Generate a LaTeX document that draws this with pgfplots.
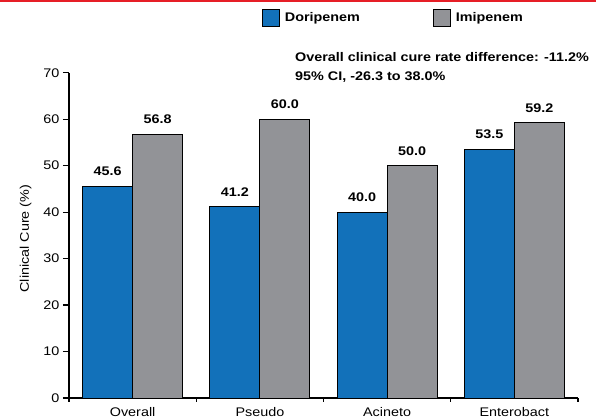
\documentclass[border=0pt]{standalone}
\usepackage{pgfplots}
\pgfplotsset{compat=1.18}
\usepackage{fontspec}
\setmainfont[FakeStretch=1.15]{Liberation Sans}
\definecolor{dblue}{RGB}{18,113,186}
\definecolor{igrey}{RGB}{146,147,151}
\definecolor{topred}{RGB}{230,30,38}
\begin{document}
\begin{tikzpicture}[x=1pt,y=1pt]
\useasboundingbox (0,0) rectangle (596,419);
\fill[topred] (0,417) rectangle (596,419);
\begin{axis}[
  at={(69pt,21pt)}, anchor=south west,
  scale only axis, width=509pt, height=325.3pt,
  xmin=-0.5, xmax=3.5, ymin=0, ymax=70,
  ybar=0pt, bar width=50pt,
  axis lines*=left,
  axis line style={line width=1.5pt, -},
  tick align=outside,
  ytick={0,10,...,70},
  ytick style={line width=1.2pt, black},
  major tick length=6pt,
  xtick={0,1,2,3},
  xticklabels={Overall,Pseudo,Acineto,Enterobact},
  major x tick style={draw=none},
  minor xtick={-0.5,0.5,1.5,2.5,3.5},
  minor x tick style={line width=1.2pt, black},
  minor tick length=4pt,
  tick label style={font=\fontsize{12.5}{14}\selectfont},
  xticklabel style={yshift=0pt},
  /pgf/number format/assume math mode=true,
  ylabel={Clinical Cure (\%)},
  ylabel style={at={(axis description cs:-0.085,0.49)}, anchor=center, rotate=0, font=\fontsize{12.5}{14}\selectfont},
  nodes near coords,
  nodes near coords style={font=\bfseries\fontsize{12.5}{14}\selectfont, inner sep=0pt, yshift=10pt},
  nodes near coords={\pgfmathprintnumber[fixed, fixed zerofill, precision=1, assume math mode=true]{\pgfplotspointmeta}},
  legend columns=2,
  legend style={at={(axis description cs:0.379,1.168)}, anchor=west, draw=none, inner sep=0pt,
    font=\bfseries\fontsize{12.5}{14}\selectfont,
    /tikz/every even column/.append style={column sep=71pt}},
  legend image code/.code={\draw[#1, line width=0.8pt] (0pt,-8.5pt) rectangle (17pt,8.5pt);},
  clip=false,
]
\addplot[fill=dblue, draw=black, line width=0.9pt] coordinates {(0,45.6) (1,41.2) (2,40.0) (3,53.5)};
\addplot[fill=igrey, draw=black, line width=0.9pt] coordinates {(0,56.8) (1,60.0) (2,50.0) (3,59.2)};
\legend{\hspace{3pt}Doripenem,\hspace{3pt}Imipenem}
\node[anchor=west, align=left, inner sep=0pt, font=\bfseries\fontsize{12.5}{19}\selectfont] at (axis description cs:0.444,1.016) {Overall clinical cure rate difference: -11.2\%\\95\% CI, -26.3 to 38.0\%};
\end{axis}
\end{tikzpicture}
\end{document}
